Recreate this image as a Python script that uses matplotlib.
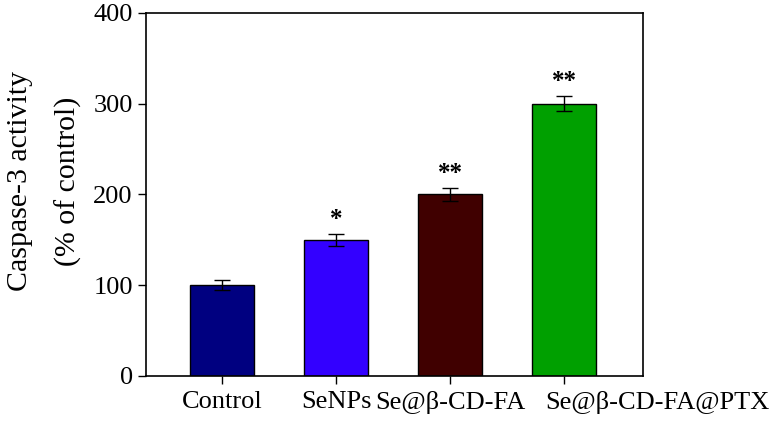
import matplotlib
matplotlib.use("Agg")
import matplotlib.pyplot as plt
import matplotlib.transforms as mtransforms

# data
groups = ["Control", "SeNPs", "Se@β-CD-FA", "Se@β-CD-FA@PTX"]
activity = [100, 150, 200, 300]
errors = [5.5, 6.6, 7.7, 8.5]
stars = ["", "*", "**", "**"]
colors = ["#000080", "#3300FF", "#400000", "#00A000"]

plt.rcParams["font.family"] = ["Liberation Serif", "DejaVu Serif"]

fig = plt.figure(figsize=(7.78, 4.26), dpi=100)
ax = fig.add_axes([0.1877, 0.1174, 0.6388, 0.8521])

x = list(range(len(groups)))
ax.bar(x, activity, width=0.56, color=colors, edgecolor="black", linewidth=1.0,
       yerr=errors, capsize=5.5, error_kw=dict(elinewidth=1.0, capthick=1.0, ecolor="black"))

# significance stars above the error bars
for xi, v, e, s in zip(x, activity, errors, stars):
    if s:
        ax.text(xi, v + e + 3, s, ha="center", va="bottom", fontsize=18, fontweight="bold")

ax.set_xlim(-0.67, 3.69)
ax.set_ylim(0, 400)
ax.set_yticks([0, 100, 200, 300, 400])
ax.set_xticks(x)
ax.set_xticklabels(groups)
ax.tick_params(axis="both", direction="out", length=5.5, width=1.0, labelsize=19)
ax.tick_params(axis="y", pad=4)
ax.tick_params(axis="x", pad=5)
for sp in ax.spines.values():
    sp.set_linewidth(1.2)

# last label is pushed right in the original so it doesn't hit its neighbour
last = ax.get_xticklabels()[-1]
last.set_horizontalalignment("left")
last.set_transform(last.get_transform() + mtransforms.ScaledTranslation(-0.19, 0, fig.dpi_scale_trans))

ax.set_ylabel("Caspase-3 activity\n(% of control)", fontsize=21.5, linespacing=2.05)
ax.yaxis.set_label_coords(-0.129, 0.536)

fig.savefig("out.png", dpi=100)
